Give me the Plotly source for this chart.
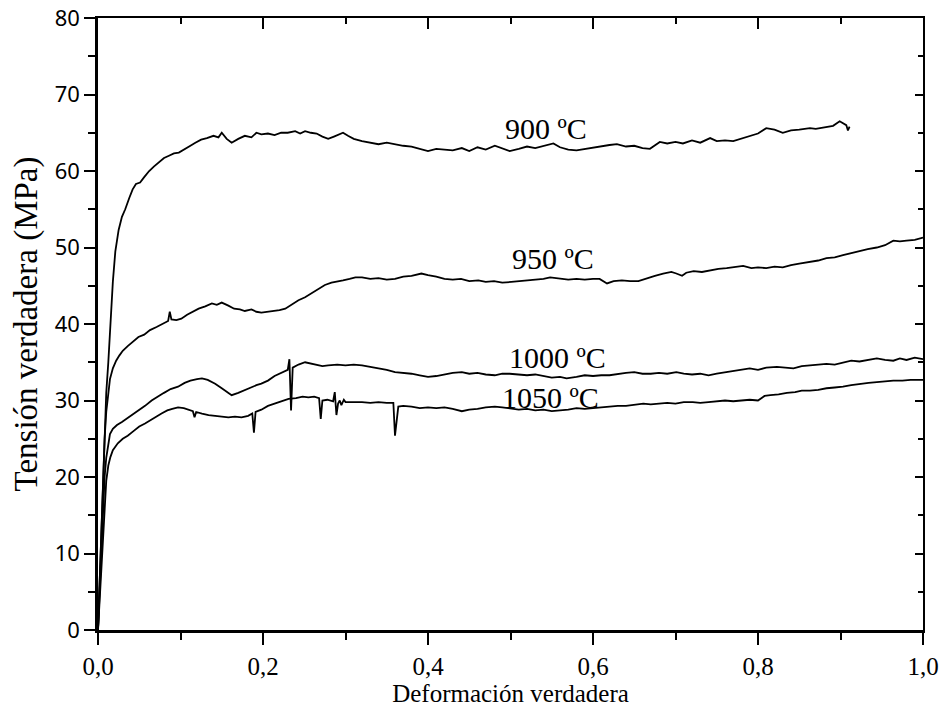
import plotly.graph_objects as go

# ---------------- data ----------------
x_900 = [0, 0.002, 0.004, 0.006, 0.008, 0.010, 0.0125, 0.015, 0.018, 0.021, 0.025, 0.029, 0.033, 0.038,
         0.042, 0.046, 0.051, 0.056, 0.062, 0.068, 0.074, 0.080, 0.086, 0.092, 0.098, 0.105, 0.112, 0.118,
         0.125, 0.132, 0.140, 0.146, 0.150, 0.156, 0.162, 0.170, 0.178, 0.186, 0.192, 0.198, 0.206, 0.214,
         0.222, 0.230, 0.239, 0.245, 0.251, 0.258, 0.265, 0.272, 0.279, 0.286, 0.292, 0.297, 0.303, 0.310,
         0.320, 0.330, 0.340, 0.350, 0.360, 0.370, 0.380, 0.390, 0.400, 0.410, 0.420, 0.430, 0.441, 0.450,
         0.460, 0.470, 0.481, 0.490, 0.499, 0.510, 0.520, 0.530, 0.540, 0.552, 0.560, 0.570, 0.580, 0.590,
         0.600, 0.610, 0.620, 0.629, 0.640, 0.650, 0.660, 0.669, 0.681, 0.690, 0.700, 0.709, 0.720, 0.730,
         0.742, 0.750, 0.760, 0.770, 0.782, 0.790, 0.800, 0.810, 0.820, 0.830, 0.840, 0.850, 0.863, 0.870,
         0.880, 0.891, 0.899, 0.903, 0.907, 0.909, 0.911]
y_900 = [0, 6, 13, 20, 26, 31, 35, 40.5, 45.5, 49.5, 52.3, 54.0, 55.0, 56.5,
         57.6, 58.3, 58.5, 59.2, 60.0, 60.6, 61.2, 61.7, 62.0, 62.3, 62.4, 62.9, 63.3, 63.7,
         64.1, 64.3, 64.6, 64.4, 65.0, 64.2, 63.7, 64.2, 64.6, 64.4, 65.0, 64.8, 64.9, 64.7,
         65.0, 65.0, 65.2, 64.9, 65.2, 65.0, 64.9, 64.5, 64.2, 64.5, 64.8, 65.0, 64.6, 64.2,
         63.9, 63.7, 63.5, 63.7, 63.5, 63.3, 63.2, 62.9, 62.6, 62.9, 62.8, 62.7, 63.0, 62.6,
         63.1, 62.8, 63.3, 63.0, 62.6, 62.9, 63.2, 63.0, 63.3, 63.6, 63.1, 62.8, 62.7, 62.9,
         63.0, 63.2, 63.4, 63.5, 63.2, 63.3, 63.0, 62.9, 63.8, 63.6, 63.8, 63.6, 64.0, 63.7,
         64.3, 63.9, 64.0, 63.9, 64.3, 64.6, 64.9, 65.6, 65.4, 65.0, 65.3, 65.4, 65.6, 65.5,
         65.7, 65.9, 66.5, 66.3, 66.0, 65.3, 65.8]

x_950 = [0, 0.002, 0.004, 0.006, 0.008, 0.010, 0.0125, 0.0145, 0.018, 0.022, 0.026, 0.030, 0.036, 0.042,
         0.049, 0.056, 0.063, 0.071, 0.078, 0.085, 0.087, 0.089, 0.095, 0.101, 0.108, 0.115, 0.122, 0.130,
         0.138, 0.144, 0.150, 0.158, 0.165, 0.172, 0.178, 0.186, 0.192, 0.198, 0.206, 0.214, 0.220, 0.227,
         0.235, 0.243, 0.251, 0.259, 0.267, 0.275, 0.283, 0.290, 0.297, 0.305, 0.312, 0.320, 0.330, 0.340,
         0.350, 0.360, 0.370, 0.380, 0.392, 0.400, 0.410, 0.420, 0.430, 0.440, 0.450, 0.461, 0.470, 0.480,
         0.490, 0.501, 0.510, 0.520, 0.530, 0.540, 0.548, 0.560, 0.570, 0.580, 0.590, 0.600, 0.608, 0.617,
         0.625, 0.635, 0.645, 0.655, 0.665, 0.675, 0.685, 0.695, 0.701, 0.708, 0.713, 0.722, 0.732, 0.742,
         0.752, 0.762, 0.772, 0.782, 0.792, 0.800, 0.810, 0.820, 0.830, 0.840, 0.850, 0.863, 0.873, 0.883,
         0.893, 0.903, 0.913, 0.923, 0.933, 0.944, 0.954, 0.964, 0.972, 0.980, 0.990, 1.0]
y_950 = [0, 7, 14, 20, 25, 28.5, 31, 32.8, 34.2, 35.2, 35.9, 36.5, 37.1, 37.7,
         38.3, 38.6, 39.2, 39.6, 40.0, 40.4, 41.6, 40.6, 40.5, 40.7, 41.2, 41.6, 42.0, 42.3,
         42.7, 42.5, 42.8, 42.4, 42.0, 41.9, 41.7, 41.9, 41.6, 41.5, 41.6, 41.7, 41.8, 42.0,
         42.6, 43.1, 43.5, 44.0, 44.6, 45.1, 45.4, 45.6, 45.7, 45.9, 46.1, 46.1, 45.9, 46.0,
         45.8, 45.9, 46.2, 46.3, 46.6, 46.4, 46.2, 45.9, 45.8, 45.9, 45.6, 45.7, 45.5, 45.6,
         45.4, 45.5, 45.6, 45.7, 45.8, 45.9, 46.1, 45.9, 45.8, 45.9, 45.8, 45.9, 45.9, 45.3,
         45.6, 45.7, 45.6, 45.6, 45.9, 46.3, 46.6, 46.8, 46.6, 46.3, 46.7, 46.9, 46.8, 47.0,
         47.2, 47.3, 47.5, 47.6, 47.3, 47.4, 47.3, 47.5, 47.4, 47.7, 47.9, 48.1, 48.3, 48.6,
         48.7, 49.0, 49.3, 49.6, 49.8, 50.0, 50.3, 50.9, 50.8, 50.9, 51.0, 51.3]

x_1000 = [0, 0.002, 0.004, 0.006, 0.008, 0.010, 0.0125, 0.0145, 0.018, 0.023, 0.029, 0.036, 0.043, 0.050,
          0.057, 0.065, 0.072, 0.080, 0.088, 0.097, 0.105, 0.112, 0.120, 0.126, 0.133, 0.142, 0.150, 0.156,
          0.162, 0.170, 0.178, 0.186, 0.192, 0.198, 0.206, 0.214, 0.223, 0.230, 0.232, 0.234, 0.236, 0.243,
          0.251, 0.258, 0.265, 0.272, 0.279, 0.290, 0.300, 0.310, 0.320, 0.330, 0.340, 0.350, 0.360, 0.370,
          0.380, 0.390, 0.400, 0.410, 0.420, 0.430, 0.441, 0.450, 0.460, 0.470, 0.481, 0.490, 0.499, 0.510,
          0.520, 0.530, 0.540, 0.550, 0.560, 0.568, 0.580, 0.590, 0.600, 0.610, 0.620, 0.630, 0.640, 0.650,
          0.660, 0.670, 0.680, 0.690, 0.701, 0.710, 0.720, 0.730, 0.740, 0.750, 0.760, 0.770, 0.782, 0.790,
          0.800, 0.810, 0.823, 0.833, 0.843, 0.853, 0.863, 0.873, 0.883, 0.893, 0.903, 0.913, 0.923, 0.933,
          0.944, 0.954, 0.964, 0.972, 0.980, 0.990, 1.0]
y_1000 = [0, 5, 11, 16, 20, 22.5, 24.5, 25.6, 26.3, 26.8, 27.2, 27.7, 28.3, 28.8,
          29.3, 30.0, 30.5, 31.0, 31.5, 31.8, 32.3, 32.6, 32.8, 32.9, 32.7, 32.2, 31.6, 31.1,
          30.7, 31.0, 31.4, 31.8, 32.0, 32.2, 32.6, 33.2, 33.7, 34.0, 35.4, 28.7, 34.3, 34.7,
          35.0, 34.8, 34.7, 34.5, 34.6, 34.7, 34.6, 34.7, 34.6, 34.4, 34.2, 34.0, 33.7, 33.6,
          33.5, 33.3, 33.1, 33.2, 33.4, 33.6, 33.7, 33.5, 33.6, 33.4, 33.3, 33.5, 33.5, 33.4,
          33.3, 33.4, 33.2, 33.0, 33.1, 32.9, 33.1, 33.3, 33.2, 33.3, 33.3, 33.5, 33.6, 33.7,
          33.5, 33.5, 33.6, 33.5, 33.7, 33.5, 33.4, 33.5, 33.3, 33.5, 33.7, 33.8, 34.1, 34.2,
          34.0, 34.3, 34.4, 34.3, 34.2, 34.5, 34.6, 34.7, 34.8, 34.7, 35.0, 35.2, 35.1, 35.3,
          35.5, 35.3, 35.2, 35.5, 35.3, 35.6, 35.4]

x_1050 = [0, 0.002, 0.004, 0.006, 0.008, 0.010, 0.0125, 0.015, 0.018, 0.024, 0.030, 0.036, 0.043, 0.050,
          0.057, 0.064, 0.071, 0.077, 0.084, 0.090, 0.097, 0.104, 0.111, 0.115, 0.117, 0.119, 0.126, 0.134,
          0.142, 0.150, 0.158, 0.166, 0.174, 0.182, 0.187, 0.189, 0.191, 0.198, 0.206, 0.214, 0.222, 0.231,
          0.240, 0.248, 0.255, 0.262, 0.268, 0.270, 0.272, 0.278, 0.285, 0.287, 0.289, 0.291, 0.293, 0.295,
          0.298, 0.300, 0.310, 0.320, 0.330, 0.340, 0.350, 0.358, 0.360, 0.364, 0.370, 0.380, 0.390, 0.400,
          0.410, 0.420, 0.430, 0.441, 0.450, 0.460, 0.470, 0.481, 0.490, 0.499, 0.510, 0.520, 0.530, 0.540,
          0.550, 0.560, 0.570, 0.580, 0.590, 0.600, 0.610, 0.620, 0.630, 0.640, 0.650, 0.661, 0.670, 0.680,
          0.690, 0.700, 0.710, 0.721, 0.730, 0.740, 0.750, 0.760, 0.770, 0.780, 0.790, 0.800, 0.808, 0.815,
          0.825, 0.835, 0.845, 0.853, 0.863, 0.873, 0.883, 0.893, 0.903, 0.913, 0.924, 0.934, 0.944, 0.954,
          0.964, 0.975, 0.985, 1.0]
y_1050 = [0, 4, 9, 13, 17, 19.5, 21.5, 22.6, 23.5, 24.4, 25.0, 25.4, 26.0, 26.6,
          27.0, 27.5, 27.9, 28.3, 28.7, 28.9, 29.1, 29.0, 28.8, 28.6, 27.8, 28.5, 28.3, 28.1,
          28.0, 27.9, 27.8, 27.9, 27.8, 28.0, 28.3, 25.8, 28.5, 28.8, 29.3, 29.6, 29.9, 30.2,
          30.3, 30.5, 30.4, 30.5, 30.3, 27.6, 30.0, 30.1, 29.9, 31.1, 28.1, 29.6, 30.0, 29.4,
          30.1, 29.8, 29.8, 29.8, 29.7, 29.8, 29.7, 29.7, 25.4, 29.2, 29.3, 29.2, 29.0, 29.1,
          29.0, 29.1, 28.9, 28.6, 28.8, 28.9, 29.1, 29.2, 29.1, 29.0, 28.8, 28.9, 28.7, 28.8,
          28.6, 28.7, 28.8, 29.0, 28.9, 29.0, 29.1, 29.2, 29.3, 29.3, 29.4, 29.6, 29.5, 29.6,
          29.7, 29.6, 29.8, 29.8, 29.7, 29.8, 29.9, 30.0, 29.9, 30.0, 30.1, 30.0, 30.6, 30.7,
          30.8, 31.0, 31.1, 31.3, 31.3, 31.4, 31.6, 31.7, 31.8, 32.0, 32.2, 32.3, 32.4, 32.5,
          32.6, 32.6, 32.7, 32.7]

series = [(x_900, y_900), (x_950, y_950), (x_1000, y_1000), (x_1050, y_1050)]

label_text = ["900 ºC", "950 ºC", "1000 ºC", "1050 ºC"]
label_x = [0.543, 0.552, 0.557, 0.548]
label_y = [65.5, 48.6, 35.6, 30.4]

x_tick_vals = [0, 0.2, 0.4, 0.6, 0.8, 1.0]
x_tick_text = ["0,0", "0,2", "0,4", "0,6", "0,8", "1,0"]
y_tick_vals = [0, 10, 20, 30, 40, 50, 60, 70, 80]

# ---------------- figure ----------------
fig = go.Figure()
for xs, ys in series:
    fig.add_trace(go.Scatter(x=xs, y=ys, mode="lines",
                             line=dict(color="black", width=1.8),
                             showlegend=False, hoverinfo="skip"))

# dummy trace to activate mirror axes (top / right with inward ticks)
fig.add_trace(go.Scatter(x=[0, 1], y=[0, 80], xaxis="x2", yaxis="y2", mode="lines",
                         line=dict(width=0, color="rgba(0,0,0,0)"),
                         showlegend=False, hoverinfo="skip"))

for t, lx, ly in zip(label_text, label_x, label_y):
    fig.add_annotation(x=lx, y=ly, text=t, showarrow=False,
                       font=dict(family="Liberation Serif", size=30, color="black"))

serif = "Liberation Serif"
fig.update_layout(
    width=943, height=720,
    margin=dict(l=98, r=20, t=18, b=90),
    paper_bgcolor="white", plot_bgcolor="white",
    xaxis=dict(range=[0, 1], tickvals=x_tick_vals, ticktext=x_tick_text, automargin=False,
               ticks="outside", ticklen=12, tickwidth=2, tickcolor="black",
               minor=dict(dtick=0.1, tick0=0, ticks="outside", ticklen=7, tickwidth=2, tickcolor="black"),
               showline=True, linecolor="black", linewidth=2.5,
               showgrid=False, zeroline=False,
               tickfont=dict(family=serif, size=25, color="black"),
               title=dict(text="Deformación verdadera", standoff=4,
                          font=dict(family=serif, size=25, color="black"))),
    yaxis=dict(range=[0, 80], tickvals=y_tick_vals, automargin=False,
               ticks="outside", ticklen=11, tickwidth=2, tickcolor="black",
               minor=dict(dtick=5, tick0=0, ticks="outside", ticklen=7, tickwidth=2, tickcolor="black"),
               showline=True, linecolor="black", linewidth=2.5,
               showgrid=False, zeroline=False,
               tickfont=dict(family="Noto Sans", size=22, color="black"),
               title=dict(text="Tensión verdadera (MPa)", standoff=8,
                          font=dict(family=serif, size=33, color="black"))),
    xaxis2=dict(range=[0, 1], overlaying="x", side="top", anchor="y", automargin=False,
                tickvals=x_tick_vals, showticklabels=False,
                ticks="inside", ticklen=11, tickwidth=2, tickcolor="black",
                minor=dict(dtick=0.1, tick0=0, ticks="inside", ticklen=6, tickwidth=2, tickcolor="black"),
                showline=True, linecolor="black", linewidth=1.8,
                showgrid=False, zeroline=False),
    yaxis2=dict(range=[0, 80], overlaying="y", side="right", anchor="x", automargin=False,
                tickvals=y_tick_vals, showticklabels=False,
                ticks="inside", ticklen=8, tickwidth=2, tickcolor="black",
                minor=dict(dtick=5, tick0=0, ticks="inside", ticklen=5, tickwidth=2, tickcolor="black"),
                showline=True, linecolor="black", linewidth=1.8,
                showgrid=False, zeroline=False),
)

fig.write_html("out.html")
